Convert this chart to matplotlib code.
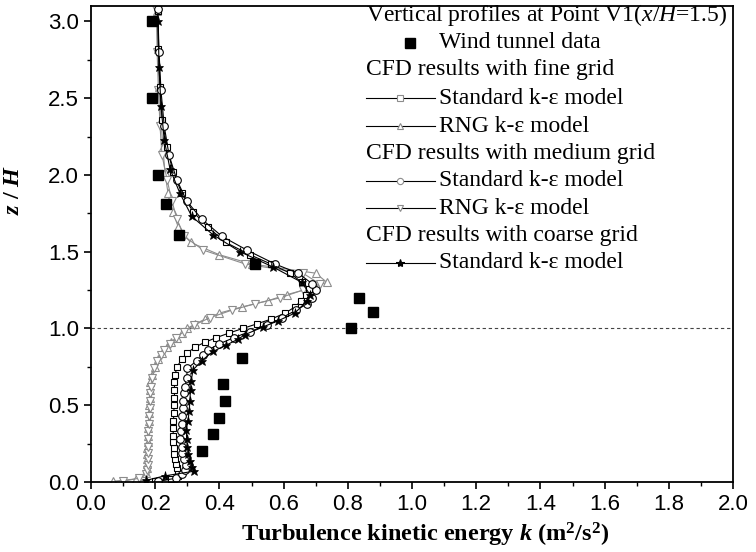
import numpy as np
import matplotlib
matplotlib.use('Agg')
import matplotlib.pyplot as plt
from matplotlib.ticker import MultipleLocator, FormatStrFormatter

plt.rcParams['font.family'] = 'Liberation Sans'
plt.rcParams['mathtext.fontset'] = 'custom'
plt.rcParams['mathtext.rm'] = 'Liberation Serif'
plt.rcParams['mathtext.it'] = 'Liberation Serif:italic'
plt.rcParams['mathtext.bf'] = 'Liberation Serif:bold'
plt.rcParams['mathtext.bfit'] = 'Liberation Serif:italic:bold'

# wind tunnel measurements
k_wind = [0.19, 0.19, 0.21, 0.234, 0.274, 0.51, 0.835, 0.88, 0.81, 0.47, 0.41, 0.417, 0.40, 0.38, 0.345]
z_wind = [3.0, 2.5, 2.0, 1.81, 1.61, 1.42, 1.20, 1.11, 1.0, 0.81, 0.64, 0.53, 0.42, 0.31, 0.20]

# fine grid
z_fine = [0.005, 0.02, 0.04, 0.06, 0.09, 0.12, 0.15, 0.18, 0.22, 0.26, 0.30, 0.35, 0.40, 0.45,
          0.50, 0.55, 0.60, 0.65, 0.70, 0.75, 0.80, 0.84, 0.88, 0.91, 0.94, 0.97, 1.00, 1.03,
          1.06, 1.10, 1.14, 1.18, 1.22, 1.26, 1.30, 1.36, 1.42, 1.48, 1.56, 1.66, 1.76, 1.88,
          2.02, 2.18, 2.36, 2.57, 2.82, 3.07]
k_fine_std = [0.20, 0.25, 0.27, 0.272, 0.268, 0.265, 0.262, 0.26, 0.258, 0.257, 0.256, 0.256,
              0.257, 0.258, 0.259, 0.26, 0.26, 0.26, 0.262, 0.268, 0.283, 0.30, 0.325, 0.355,
              0.39, 0.43, 0.473, 0.517, 0.56, 0.605, 0.635, 0.655, 0.67, 0.678, 0.657, 0.62,
              0.56, 0.495, 0.42, 0.364, 0.318, 0.283, 0.256, 0.236, 0.222, 0.215, 0.21, 0.208]
k_fine_rng = [0.07, 0.14, 0.165, 0.172, 0.175, 0.176, 0.176, 0.176, 0.176, 0.177, 0.178, 0.179,
              0.18, 0.181, 0.182, 0.183, 0.184, 0.185, 0.19, 0.198, 0.21, 0.222, 0.236, 0.25,
              0.267, 0.283, 0.30, 0.325, 0.355, 0.40, 0.47, 0.55, 0.61, 0.68, 0.735, 0.70,
              0.50, 0.40, 0.31, 0.272, 0.255, 0.24, 0.23, 0.224, 0.218, 0.212, 0.208, 0.205]

# medium grid
z_med = [0.005, 0.025, 0.05, 0.08, 0.11, 0.15, 0.19, 0.23, 0.28, 0.33, 0.38, 0.43, 0.48, 0.53,
         0.58, 0.62, 0.68, 0.74, 0.79, 0.83, 0.86, 0.90, 0.94, 0.98, 1.02, 1.07, 1.12, 1.16,
         1.20, 1.25, 1.29, 1.36, 1.42, 1.51, 1.60, 1.71, 1.83, 1.97, 2.13, 2.32, 2.55, 2.80, 3.08]
k_med_std = [0.21, 0.265, 0.285, 0.292, 0.295, 0.29, 0.285, 0.282, 0.278, 0.28, 0.282, 0.284,
             0.286, 0.288, 0.29, 0.293, 0.298, 0.30, 0.33, 0.35, 0.365, 0.40, 0.445, 0.495,
             0.548, 0.595, 0.64, 0.673, 0.688, 0.70, 0.69, 0.645, 0.573, 0.486, 0.408, 0.346,
             0.298, 0.267, 0.243, 0.228, 0.218, 0.212, 0.208]
k_med_rng = [0.10, 0.15, 0.17, 0.176, 0.178, 0.178, 0.177, 0.177, 0.178, 0.179, 0.18, 0.182,
             0.183, 0.184, 0.185, 0.186, 0.19, 0.196, 0.206, 0.218, 0.228, 0.245, 0.265, 0.29,
             0.32, 0.37, 0.44, 0.51, 0.59, 0.66, 0.713, 0.66, 0.48, 0.35, 0.29, 0.268, 0.252,
             0.237, 0.221, 0.215, 0.21, 0.206, 0.204]

# coarse grid
z_coarse = [0.01, 0.04, 0.07, 0.10, 0.14, 0.18, 0.23, 0.28, 0.34, 0.40, 0.46, 0.53, 0.60, 0.66,
            0.73, 0.79, 0.85, 0.89, 0.93, 0.96, 1.01, 1.05, 1.10, 1.18, 1.22, 1.30, 1.40, 1.50,
            1.61, 1.73, 1.88, 2.04, 2.23, 2.45, 2.70, 3.00]
k_coarse_std = [0.17, 0.23, 0.32, 0.315, 0.308, 0.303, 0.30, 0.298, 0.297, 0.302, 0.306, 0.308,
                0.31, 0.312, 0.318, 0.345, 0.38, 0.42, 0.458, 0.48, 0.536, 0.583, 0.635, 0.673,
                0.682, 0.657, 0.567, 0.464, 0.38, 0.314, 0.277, 0.246, 0.228, 0.218, 0.212, 0.209]

gray = '#8c8c8c'

fig = plt.figure(figsize=(7.56, 5.52), dpi=100)
ax = fig.add_axes([91/756, 70/552, 642/756, 476/552])

ax.axhline(1.0, color='#444444', lw=0.8, ls=(0, (3, 2.5)), zorder=1)

ax.plot(k_fine_rng, z_fine, color=gray, lw=0.8, marker='^', ms=5.5, mfc='white', mec=gray, mew=0.8)
ax.plot(k_med_rng, z_med, color=gray, lw=0.8, marker='v', ms=5.5, mfc='white', mec=gray, mew=0.8)
ax.plot(k_fine_std, z_fine, color='k', lw=0.8, marker='s', ms=4.5, mfc='white', mec='k', mew=0.8)
ax.plot(k_med_std, z_med, color='k', lw=0.8, marker='o', ms=5.5, mfc='white', mec='k', mew=0.8)
ax.plot(k_coarse_std, z_coarse, color='k', lw=0.8, marker='*', ms=6.5, mfc='k', mec='k', mew=0.5)
ax.plot(k_wind, z_wind, ls='none', marker='s', ms=6.5, color='k')

ax.set_xlim(0, 2.0)
ax.set_ylim(0, 3.1)
ax.xaxis.set_major_locator(MultipleLocator(0.2))
ax.xaxis.set_minor_locator(MultipleLocator(0.1))
ax.yaxis.set_major_locator(MultipleLocator(0.5))
ax.yaxis.set_minor_locator(MultipleLocator(0.25))
ax.xaxis.set_major_formatter(FormatStrFormatter('%.1f'))
ax.yaxis.set_major_formatter(FormatStrFormatter('%.1f'))
ax.tick_params(which='major', direction='out', length=5, width=1.2, labelsize=16)
ax.tick_params(which='minor', direction='out', length=3, width=1.0)
for s in ax.spines.values():
    s.set_linewidth(1.3)

ax.set_xlabel(r'Turbulence kinetic energy $\mathbfit{k}$ (m$^\mathbf{2}$/s$^\mathbf{2}$)',
              fontsize=17.5, fontweight='bold', family='Liberation Serif')
ax.xaxis.set_label_coords(0.52, -0.082)
ax.set_ylabel(r'$\mathbfit{z}$ / $\mathbfit{H}$', fontsize=17.5, fontweight='bold',
              family='Liberation Serif')
ax.yaxis.set_label_coords(-0.105, 0.613)

# legend block drawn by hand (headers have no handle)
tr = ax.transAxes
def row(py):
    return (482 - py) / 476

x_head = 0.428
x_txt = 0.542
fs = 17
ax.text(x_head, row(15), r'Vertical profiles at Point V1($\mathit{x}$/$\mathit{H}$=1.5)',
        transform=tr, va='center', fontsize=fs, family='Liberation Serif')
ax.plot([0.497], [row(43)], transform=tr, ls='none', marker='s', ms=6.5, color='k', clip_on=False)
ax.text(x_txt, row(43), 'Wind tunnel data', transform=tr, va='center', fontsize=fs, family='Liberation Serif')

entries = [
    (70, 'CFD results with fine grid', None),
    (98, 'Standard k-\u03b5 model', ('s', 'white', gray, 4)),
    (126, 'RNG k-\u03b5 model', ('^', 'white', gray, 4.5)),
    (154, 'CFD results with medium grid', None),
    (181, 'Standard k-\u03b5 model', ('o', 'white', gray, 4.5)),
    (208, 'RNG k-\u03b5 model', ('v', 'white', gray, 4.5)),
    (236, 'CFD results with coarse grid', None),
    (263, 'Standard k-\u03b5 model', ('*', 'k', 'k', 6)),
]
for py, label, mk in entries:
    y = row(py)
    if mk is None:
        ax.text(x_head, y, label, transform=tr, va='center', fontsize=fs, family='Liberation Serif')
    else:
        m, fc, ec, size = mk
        ax.plot([0.428, 0.536], [y, y], transform=tr, color='k', lw=0.8)
        ax.plot([0.482], [y], transform=tr, ls='none', marker=m, ms=size, mfc=fc, mec=ec, mew=0.8)
        ax.text(x_txt, y, label, transform=tr, va='center', fontsize=fs, family='Liberation Serif')

fig.savefig('out.png', dpi=100)
